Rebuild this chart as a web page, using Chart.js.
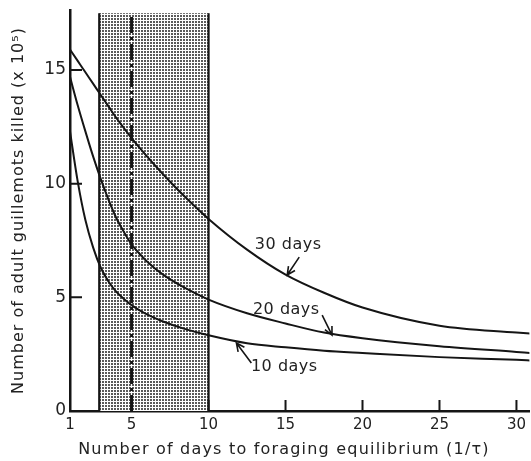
<!DOCTYPE html>
<html>
<head>
<meta charset="utf-8">
<script src="https://cdn.jsdelivr.net/npm/chart.js@4.4.0/dist/chart.umd.min.js"></script>
<style>
  html, body { margin: 0; padding: 0; background: #fff; }
  #wrap { width: 531px; height: 461px; }
</style>
</head>
<body>
<div id="wrap"><canvas id="chart"></canvas></div>
<script>
// days to foraging equilibrium (x) and guillemots killed (x 10^5) per spill duration
const days = [1, 1.5, 2, 2.5, 3, 3.5, 4, 4.5, 5, 5.5, 6, 7, 8.5, 10, 12.5, 15, 17.5, 20, 25, 30, 31];
const killed30 = [15.9, 15.4, 14.9, 14.4, 13.9, 13.4, 12.9, 12.45, 12.0, 11.6, 11.2, 10.45, 9.4, 8.45, 7.1, 6.0, 5.2, 4.55, 3.75, 3.45, 3.4];
const killed20 = [14.7, 13.45, 12.3, 11.2, 10.2, 9.3, 8.5, 7.88, 7.33, 6.93, 6.58, 6.02, 5.4, 4.9, 4.3, 3.85, 3.45, 3.2, 2.85, 2.6, 2.55];
const killed10 = [12.3, 10.1, 8.4, 7.2, 6.3, 5.7, 5.25, 4.93, 4.66, 4.44, 4.25, 3.95, 3.6, 3.33, 2.98, 2.8, 2.65, 2.55, 2.37, 2.25, 2.22];

const xTicks = [1, 5, 10, 15, 20, 25, 30];
const yTicks = [0, 5, 10, 15];
const xTickMarks = [5, 10, 15, 20, 25, 30];
const yTickMarks = [5, 10, 15];

// shaded range of realistic equilibrium times, and the dash-dot best estimate
const bandFrom = 2.9;
const bandTo = 10;
const bandTop = 17.5;
const bestEstimate = 5;

const labelText = ['30 days', '20 days', '10 days'];
const labelAt = [[15.17, 7.3], [15.05, 4.44], [14.92, 1.94]];
const arrowFrom = [[15.89, 6.77], [17.38, 4.22], [12.78, 2.11]];
const arrowTo = [[15.11, 5.98], [18.02, 3.34], [11.81, 2.99]];

const FONT = '"DejaVu Sans", sans-serif';
const INK = '#151515';

function pts(ys) {
  return days.map((d, i) => ({ x: d, y: ys[i] }));
}

const stipple = (() => {
  const c = document.createElement('canvas');
  c.width = 3; c.height = 3;
  const g = c.getContext('2d');
  g.fillStyle = '#fff';
  g.fillRect(0, 0, 3, 3);
  g.fillStyle = '#5a5a5a';
  g.fillRect(0, 0, 2, 2);
  return c;
})();

const bandPlugin = {
  id: 'band',
  beforeDatasetsDraw(chart) {
    const { ctx, scales: { x, y } } = chart;
    const l = x.getPixelForValue(bandFrom);
    const r = x.getPixelForValue(bandTo);
    const t = y.getPixelForValue(bandTop);
    const b = y.getPixelForValue(0);
    ctx.save();
    ctx.fillStyle = ctx.createPattern(stipple, 'repeat');
    ctx.fillRect(l, t, r - l, b - t);
    ctx.strokeStyle = INK;
    ctx.lineWidth = 2.2;
    ctx.beginPath();
    ctx.moveTo(l, t); ctx.lineTo(l, b);
    ctx.moveTo(r, t); ctx.lineTo(r, b);
    ctx.stroke();
    ctx.restore();
  }
};

const decorPlugin = {
  id: 'decor',
  afterDraw(chart) {
    const { ctx, scales: { x, y } } = chart;
    ctx.save();
    ctx.strokeStyle = INK;
    ctx.lineWidth = 2;
    ctx.beginPath();
    // inward tick marks
    xTickMarks.forEach(v => {
      const px = x.getPixelForValue(v);
      ctx.moveTo(px, y.bottom);
      ctx.lineTo(px, y.bottom - 11);
    });
    yTickMarks.forEach(v => {
      const py = y.getPixelForValue(v);
      ctx.moveTo(x.left, py);
      ctx.lineTo(x.left + 12, py);
    });
    ctx.stroke();

    // curve labels with arrows
    ctx.fillStyle = '#222';
    ctx.font = '16px ' + FONT;
    ctx.textAlign = 'center';
    ctx.textBaseline = 'middle';
    ctx.letterSpacing = '0.5px';
    labelText.forEach((txt, i) => {
      ctx.fillText(txt, x.getPixelForValue(labelAt[i][0]), y.getPixelForValue(labelAt[i][1]));
      const x0 = x.getPixelForValue(arrowFrom[i][0]);
      const y0 = y.getPixelForValue(arrowFrom[i][1]);
      const x1 = x.getPixelForValue(arrowTo[i][0]);
      const y1 = y.getPixelForValue(arrowTo[i][1]);
      const a = Math.atan2(y1 - y0, x1 - x0);
      ctx.lineWidth = 1.6;
      ctx.beginPath();
      ctx.moveTo(x0, y0);
      ctx.lineTo(x1, y1);
      ctx.moveTo(x1 - 9 * Math.cos(a - 0.45), y1 - 9 * Math.sin(a - 0.45));
      ctx.lineTo(x1, y1);
      ctx.lineTo(x1 - 9 * Math.cos(a + 0.45), y1 - 9 * Math.sin(a + 0.45));
      ctx.stroke();
    });

    // axis titles
    ctx.fillStyle = '#222';
    ctx.font = '16px ' + FONT;
    ctx.letterSpacing = '1.2px';
    ctx.fillText('Number of days to foraging equilibrium (1/\u03c4)', 284, 450);
    ctx.translate(19, (y.top + y.bottom) / 2);
    ctx.rotate(-Math.PI / 2);
    ctx.font = '16px ' + FONT;
    ctx.letterSpacing = '1px';
    ctx.fillText('Number of adult guillemots killed (x 10\u2075)', 0, 0);
    ctx.restore();
  }
};

const curve = (data) => ({
  data,
  borderColor: INK,
  borderWidth: 2,
  pointRadius: 0,
  cubicInterpolationMode: 'monotone',
  fill: false
});

new Chart(document.getElementById('chart'), {
  type: 'line',
  data: {
    datasets: [
      curve(pts(killed30)),
      curve(pts(killed20)),
      curve(pts(killed10)),
      {
        data: [{ x: bestEstimate, y: 0 }, { x: bestEstimate, y: bandTop }],
        borderColor: INK,
        borderWidth: 3,
        borderDash: [16, 4, 3, 4],
        pointRadius: 0,
        fill: false
      }
    ]
  },
  options: {
    responsive: true,
    maintainAspectRatio: false,
    animation: false,
    layout: { padding: { top: 10, right: 0, left: 0, bottom: 0 } },
    plugins: { legend: { display: false }, tooltip: { enabled: false } },
    scales: {
      x: {
        type: 'linear',
        min: 1,
        max: 30.84,
        afterBuildTicks: s => { s.ticks = xTicks.map(v => ({ value: v })); },
        afterFit: s => { s.height = 50; },
        grid: { display: false, drawTicks: false },
        border: { display: true, color: INK, width: 2.5 },
        ticks: { color: '#222', font: { family: FONT, size: 15 }, padding: 5, maxRotation: 0, autoSkip: false }
      },
      y: {
        min: 0,
        max: 17.64,
        afterBuildTicks: s => { s.ticks = yTicks.map(v => ({ value: v })); },
        afterFit: s => { s.width = 70; s.paddingTop = 0; s.paddingBottom = 0; },
        grid: { display: false, drawTicks: false },
        border: { display: true, color: INK, width: 2.5 },
        ticks: { color: '#222', font: { family: FONT, size: 17 }, padding: 4 }
      }
    }
  },
  plugins: [bandPlugin, decorPlugin]
});
</script>
</body>
</html>
